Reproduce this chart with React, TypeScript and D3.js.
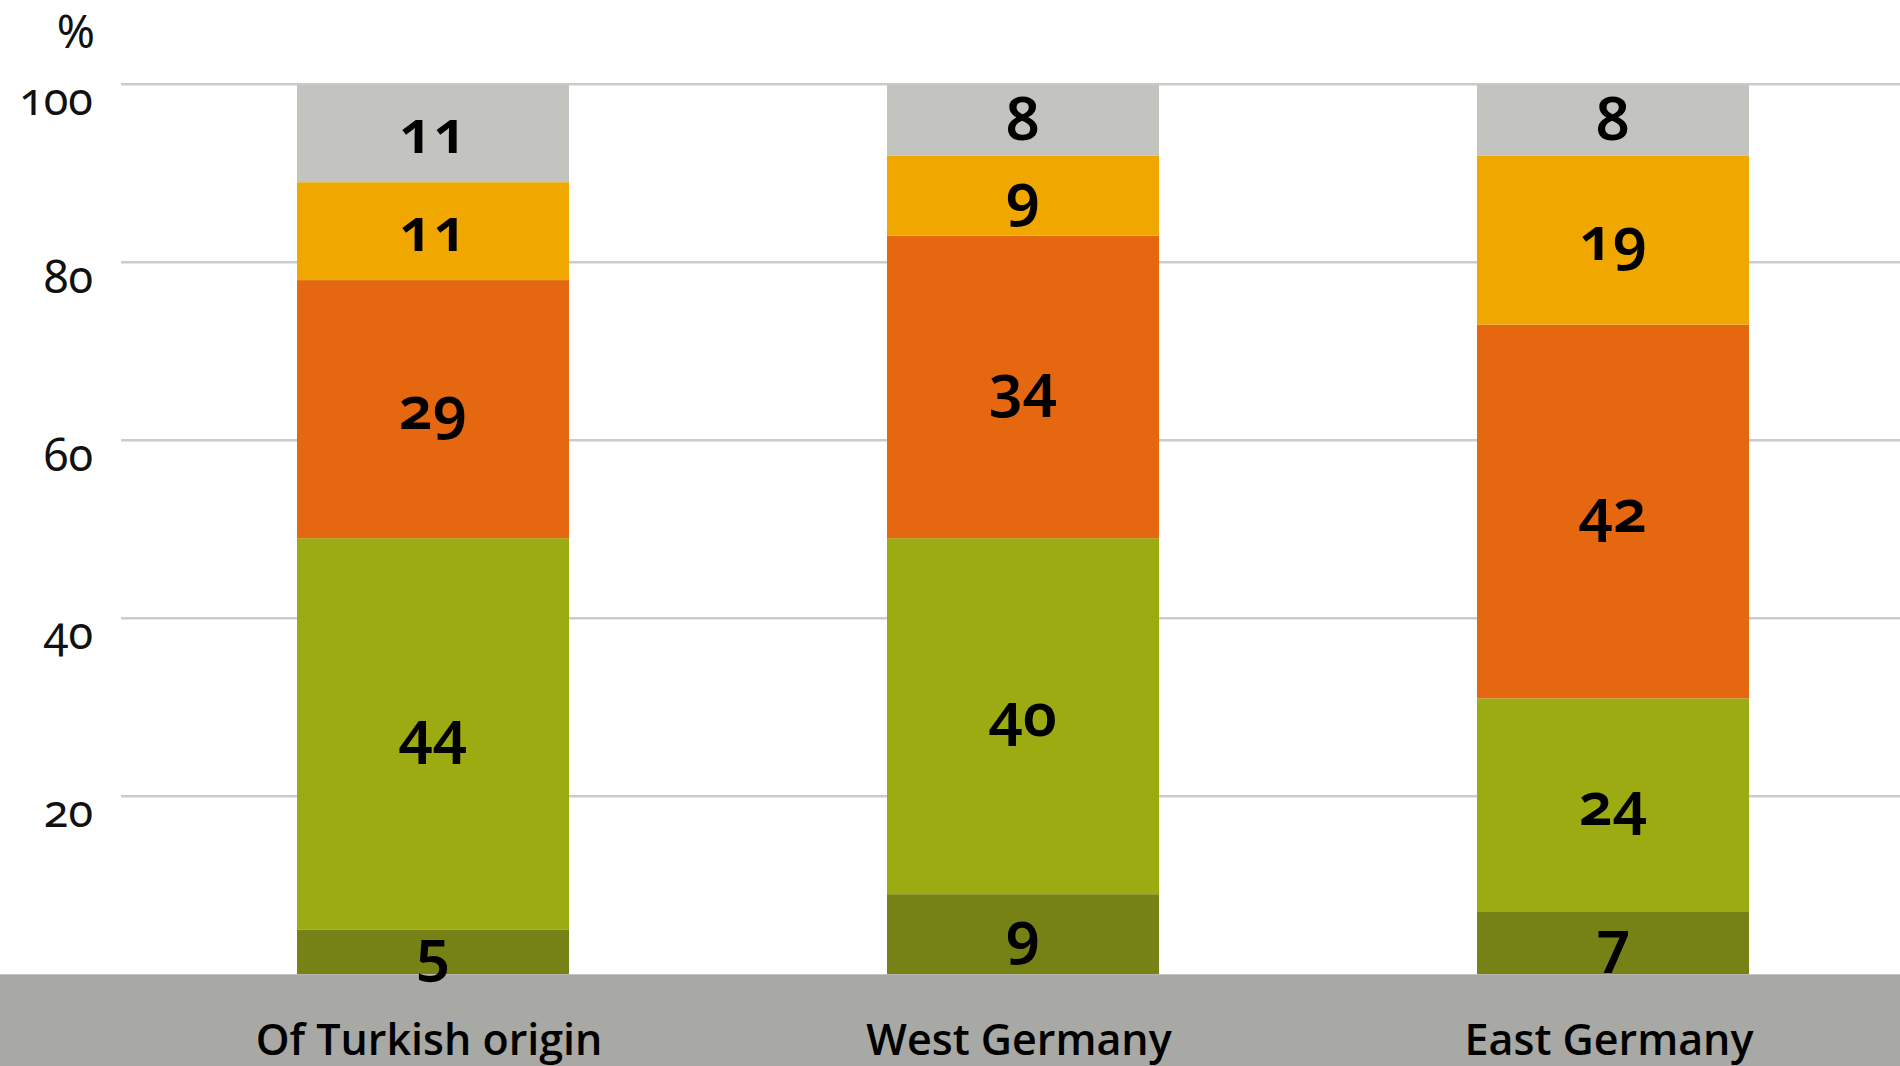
import React from "react";
import * as d3 from "d3";

const categories = ["Of Turkish origin", "West Germany", "East Germany"];
const seriesKeys = ["s1", "s2", "s3", "s4", "s5"];
const s1 = [5, 9, 7];
const s2 = [44, 40, 24];
const s3 = [29, 34, 42];
const s4 = [11, 9, 19];
const s5 = [11, 8, 8];
const seriesValues = [s1, s2, s3, s4, s5];
const seriesColors = ["#768215", "#9dab12", "#e5670f", "#f0a800", "#c3c3bf"];
const yTicks = [20, 40, 60, 80, 100];

const W = 1900;
const H = 1066;

export default function App() {
  const y = d3.scaleLinear().domain([0, 100]).range([974.3, 84.3]);
  const x = d3
    .scaleBand<string>()
    .domain(categories)
    .range([138, 1908])
    .paddingInner(0.539)
    .paddingOuter(0.2695);

  const rows = categories.map((c, i) => {
    const r: any = { cat: c };
    seriesKeys.forEach((k, j) => (r[k] = seriesValues[j][i]));
    return r;
  });
  const stacked = d3.stack().keys(seriesKeys)(rows);

  const numFont = "'Noto Sans', 'Open Sans', sans-serif";

  return (
    <div style={{ position: "fixed", left: 0, top: 0, width: W, height: H, background: "#fff" }}>
      <svg width={W} height={H} style={{ display: "block" }}>
        {yTicks.map((t) => (
          <line key={"g" + t} x1={121} x2={W} y1={y(t)} y2={y(t)} stroke="#cccccc" strokeWidth={2.5} />
        ))}
        {yTicks.map((t) => (
          <text
            key={"t" + t}
            x={93}
            y={y(t) + 31}
            textAnchor="end"
            fontFamily={numFont}
            fontSize={45}
            fill="#111"
            style={{ fontVariantNumeric: "oldstyle-nums" }}
          >
            {t}
          </text>
        ))}
        <text x={95} y={48} textAnchor="end" fontFamily={numFont} fontSize={46} fill="#111">
          %
        </text>
        {stacked.map((layer, j) => (
          <g key={"l" + j} fill={seriesColors[j]}>
            {layer.map((d, i) => (
              <rect
                key={i}
                x={x(categories[i])}
                width={x.bandwidth()}
                y={y(d[1])}
                height={y(d[0]) - y(d[1])}
              />
            ))}
          </g>
        ))}
        <rect x={0} y={y(0)} width={W} height={H - y(0)} fill="#a8a8a4" />
        {stacked.map((layer, j) =>
          layer.map((d, i) => (
            <text
              key={"v" + j + "-" + i}
              x={(x(categories[i]) as number) + x.bandwidth() / 2}
              y={(y(d[0]) + y(d[1])) / 2 + 20}
              textAnchor="middle"
              fontFamily={numFont}
              fontWeight={600}
              fontSize={60}
              fill="#000"
              style={{ fontVariantNumeric: "oldstyle-nums" }}
            >
              {seriesValues[j][i]}
            </text>
          ))
        )}
        {categories.map((c) => (
          <text
            key={"c" + c}
            x={(x(c) as number) + x.bandwidth() / 2 - 4}
            y={1055}
            textAnchor="middle"
            fontFamily="'Open Sans', 'Noto Sans', sans-serif"
            fontWeight={600}
            fontSize={43}
            fill="#000"
          >
            {c}
          </text>
        ))}
      </svg>
    </div>
  );
}
